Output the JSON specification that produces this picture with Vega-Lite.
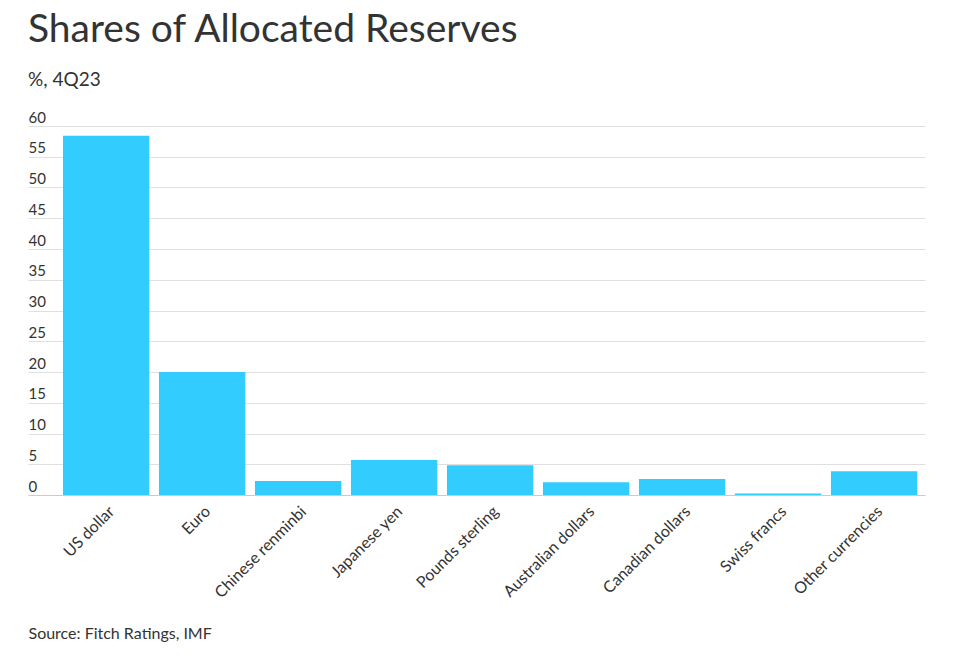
{
  "$schema": "https://vega.github.io/schema/vega-lite/v6.json",
  "width": 897,
  "height": 369,
  "autosize": {"type": "none"},
  "padding": {"left": 28, "top": 126, "right": 51, "bottom": 168},
  "background": "white",
  "title": {
    "text": "Shares of Allocated Reserves",
    "subtitle": "%, 4Q23",
    "anchor": "start",
    "frame": "group",
    "font": "Lato",
    "fontSize": 39,
    "fontWeight": "normal",
    "color": "#333333",
    "subtitleFont": "Lato",
    "subtitleFontSize": 19,
    "subtitleColor": "#333333",
    "subtitlePadding": 21,
    "offset": 20
  },
  "data": {
    "values": [
      {"currency": "US dollar", "share": 58.41},
      {"currency": "Euro", "share": 19.98},
      {"currency": "Chinese renminbi", "share": 2.29},
      {"currency": "Japanese yen", "share": 5.70},
      {"currency": "Pounds sterling", "share": 4.84},
      {"currency": "Australian dollars", "share": 2.07},
      {"currency": "Canadian dollars", "share": 2.59},
      {"currency": "Swiss francs", "share": 0.23},
      {"currency": "Other currencies", "share": 3.88}
    ]
  },
  "mark": {"type": "bar", "color": "#33ccff"},
  "encoding": {
    "x": {
      "field": "currency",
      "type": "nominal",
      "sort": null,
      "scale": {"paddingInner": 0.1, "paddingOuter": 0.222, "align": 0.82},
      "axis": {
        "labelAngle": -45,
        "labelFont": "Lato",
        "labelFontSize": 16,
        "labelColor": "#333333",
        "ticks": false,
        "tickSize": 0,
        "labelPadding": 8,
        "domain": true,
        "domainColor": "#cccccc",
        "title": "Source: Fitch Ratings, IMF",
        "titleX": 0,
        "titleY": 143,
        "titleAlign": "left",
        "titleAnchor": "start",
        "titleBaseline": "alphabetic",
        "titleFont": "Lato",
        "titleFontSize": 16,
        "titleFontWeight": "normal",
        "titleColor": "#333333"
      }
    },
    "y": {
      "field": "share",
      "type": "quantitative",
      "scale": {"domain": [0, 60], "nice": false},
      "axis": {
        "title": null,
        "values": [0, 5, 10, 15, 20, 25, 30, 35, 40, 45, 50, 55, 60],
        "grid": true,
        "gridColor": "#e0e0e0",
        "domain": false,
        "ticks": false,
        "tickSize": 0,
        "labelAlign": "left",
        "labelBaseline": "alphabetic",
        "labelPadding": 0,
        "labelOffset": -4,
        "labelFont": "Lato",
        "labelFontSize": 15,
        "labelColor": "#333333"
      }
    }
  },
  "config": {"view": {"stroke": null}, "font": "Lato"}
}
